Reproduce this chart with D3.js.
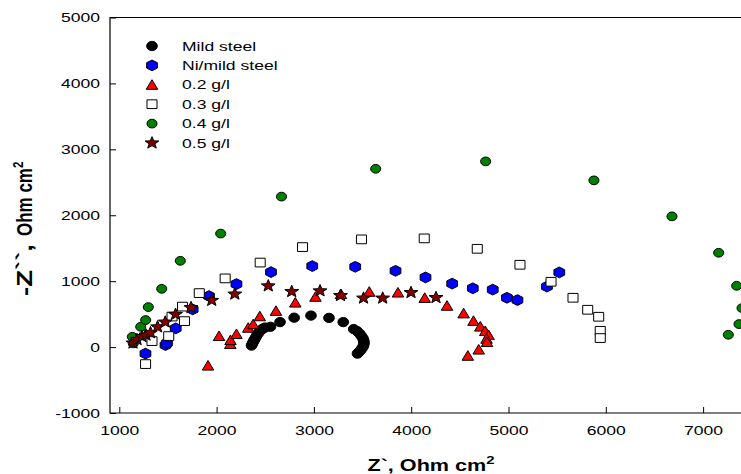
<!DOCTYPE html>
<html>
<head>
<meta charset="utf-8">
<script src="https://cdn.jsdelivr.net/npm/d3@7"></script>
<style>
  body { margin: 0; background: #fff; }
  text { font-family: "Liberation Sans", Arial, sans-serif; }
</style>
</head>
<body>
<script>
// Nyquist data, [Z', -Z''] in Ohm cm2
const mildSteel = [[2359,23],[2367,49],[2376,76],[2385,102],[2395,127],[2405,155],[2415,182],[2427,208],[2441,234],[2456,258],[2475,279],[2497,296],[2554,308],[2652,379],[2797,446],[2970,478],[3155,443],[3302,379],[3409,273],[3443,243],[3469,205],[3489,167],[3505,129],[3513,91],[3515,53],[3508,15],[3494,-20],[3479,-50],[3463,-76],[3448,-99]];
const niMildSteel = [[1269,-99],[1475,30],[1490,61],[1580,284],[1754,572],[1922,774],[2204,956],[2559,1138],[2983,1229],[3425,1218],[3839,1157],[4147,1057],[4421,963],[4633,892],[4838,872],[4984,748],[5092,713],[5395,918],[5522,1133]];
const conc02 = [[1912,-281],[2025,167],[2141,46],[2143,106],[2204,197],[2325,293],[2376,346],[2444,467],[2610,549],[2809,675],[3016,763],[3278,804],[3569,839],[3864,827],[4139,746],[4368,627],[4539,511],[4640,397],[4710,311],[4761,243],[4796,182],[4774,126],[4779,76],[4694,-38],[4582,-132]];
const conc03 = [[1270,-258],[1336,91],[1508,167],[1542,463],[1670,394],[1650,614],[1822,819],[2088,1042],[2448,1282],[2883,1517],[3489,1634],[4134,1649],[4679,1491],[5118,1249],[5437,991],[5663,748],[5814,566],[5927,460],[5943,247],[5943,137]];
const conc04 = [[1134,156],[1144,56],[1220,308],[1271,410],[1298,607],[1436,884],[1627,1309],[2042,1722],[2667,2283],[3635,2705],[4765,2817],[5878,2529],[6680,1983],[7160,1431],[7345,930],[7400,592],[7369,349],[7259,187]];
const conc05 = [[1141,61],[1182,114],[1233,159],[1274,182],[1321,217],[1393,306],[1472,379],[1578,496],[1737,599],[1950,708],[2187,804],[2531,928],[2772,842],[3063,853],[3273,781],[3510,743],[3707,743],[3998,827],[4255,751]];

const seriesNames = ["Mild steel", "Ni/mild steel", "0.2 g/l", "0.3 g/l", "0.4 g/l", "0.5 g/l"];
const xTicks = [1000, 2000, 3000, 4000, 5000, 6000, 7000];
const yTicks = [-1000, 0, 1000, 2000, 3000, 4000, 5000];

const width = 741;
const height = 474;
const left = 110;
const textStretch = 1.35; // picture is squeezed wide
const markStretch = 1.15;

// custom marker shapes
const hexagon = {
  draw(c, size) {
    const r = Math.sqrt(size);
    for (let i = 0; i < 6; i++) {
      const a = -Math.PI / 2 + i * Math.PI / 3;
      i ? c.lineTo(r * Math.cos(a), r * Math.sin(a)) : c.moveTo(r * Math.cos(a), r * Math.sin(a));
    }
    c.closePath();
  }
};
const triangle = {
  draw(c, size) {
    const r = Math.sqrt(size);
    c.moveTo(0, -r);
    c.lineTo(r * 0.98, r * 0.88);
    c.lineTo(-r * 0.98, r * 0.88);
    c.closePath();
  }
};
const star = {
  draw(c, size) {
    const R = Math.sqrt(size), ri = R * 0.42;
    for (let i = 0; i < 10; i++) {
      const a = -Math.PI / 2 + i * Math.PI / 5;
      const r = i % 2 ? ri : R;
      i ? c.lineTo(r * Math.cos(a), r * Math.sin(a)) : c.moveTo(r * Math.cos(a), r * Math.sin(a));
    }
    c.closePath();
  }
};

const styles = [
  { data: mildSteel, type: d3.symbolCircle, size: 68, fill: "#000000" },
  { data: niMildSteel, type: hexagon, size: 29, fill: "#0000ff" },
  { data: conc02, type: triangle, size: 26, fill: "#ff0000" },
  { data: conc03, type: d3.symbolSquare, size: 76, fill: "#ffffff" },
  { data: conc04, type: d3.symbolCircle, size: 60, fill: "#008000" },
  { data: conc05, type: star, size: 40, fill: "#800000" }
];

const svg = d3.select("body").append("svg")
  .attr("width", width)
  .attr("height", height);
svg.append("rect").attr("width", width).attr("height", height).attr("fill", "#fff");

const x = d3.scaleLinear().domain([1000, 7000]).range([119.3, 703.1]);
const y = d3.scaleLinear().domain([-1000, 5000]).range([413, 17.5]);

function stretch(sel, k) {
  sel.each(function () {
    const w = this.getComputedTextLength();
    d3.select(this).attr("textLength", w * k).attr("lengthAdjust", "spacingAndGlyphs");
  });
}

// x axis
const gx = svg.append("g")
  .attr("transform", `translate(0,${y(-1000)})`)
  .call(d3.axisBottom(x).tickValues(xTicks).tickSize(-6).tickSizeOuter(0).tickPadding(12.5).tickFormat((d) => String(d)));
gx.select(".domain").remove();
gx.selectAll("text").attr("font-size", 13).attr("fill", "#000").call(stretch, textStretch);
gx.selectAll("line").attr("stroke", "#000");

// y axis
const gy = svg.append("g")
  .attr("transform", `translate(${left},0)`)
  .call(d3.axisLeft(y).tickValues(yTicks).tickSize(-6).tickSizeOuter(0).tickPadding(10).tickFormat((d) => String(d)));
gy.select(".domain").remove();
gy.selectAll("text").attr("font-size", 13).attr("fill", "#000").call(stretch, textStretch);
gy.selectAll("line").attr("stroke", "#000");

// frame (right side runs off the picture)
svg.append("path")
  .attr("d", `M${width + 5},${y(5000)}H${left}V${y(-1000)}H${width + 5}`)
  .attr("fill", "none")
  .attr("stroke", "#000")
  .attr("stroke-width", 1.2);

// points
styles.forEach((s) => {
  const sym = d3.symbol().type(s.type).size(s.size);
  svg.append("g")
    .selectAll("path")
    .data(s.data)
    .join("path")
    .attr("d", sym)
    .attr("transform", (d) => `translate(${x(d[0])},${y(d[1])}) scale(${markStretch},1)`)
    .attr("fill", s.fill)
    .attr("stroke", "#000")
    .attr("stroke-width", 1)
    .attr("vector-effect", "non-scaling-stroke");
});

// legend
const legend = svg.append("g").attr("transform", "translate(152,46)");
const rows = legend.selectAll("g")
  .data(seriesNames)
  .join("g")
  .attr("transform", (d, i) => `translate(0,${i * 19.4})`);
rows.append("path")
  .attr("d", (d, i) => d3.symbol().type(styles[i].type).size(styles[i].size)())
  .attr("transform", `scale(${markStretch},1)`)
  .attr("fill", (d, i) => styles[i].fill)
  .attr("stroke", "#000")
  .attr("stroke-width", 1)
  .attr("vector-effect", "non-scaling-stroke");
rows.append("text")
  .attr("x", 30)
  .attr("dy", "0.36em")
  .attr("font-size", 13)
  .text((d) => d)
  .call(stretch, textStretch);

// axis titles
const xt = svg.append("text")
  .attr("transform", `translate(431,471) scale(${textStretch},1)`)
  .attr("text-anchor", "middle")
  .attr("font-size", 16)
  .attr("font-weight", "bold");
xt.append("tspan").text("Z`, Ohm cm");
xt.append("tspan").attr("font-size", 11).attr("dy", -7).text("2");

const yt = svg.append("text")
  .attr("transform", `translate(32,296) rotate(-90) scale(1,${textStretch})`)
  .attr("font-size", 17)
  .attr("font-weight", "bold");
yt.append("tspan").attr("x", 0).attr("textLength", 52).attr("lengthAdjust", "spacingAndGlyphs").text("-Z``,");
yt.append("tspan").attr("x", 60).text("Ohm cm");
yt.append("tspan").attr("font-size", 11.5).attr("dy", -7).text("2");
</script>
</body>
</html>
